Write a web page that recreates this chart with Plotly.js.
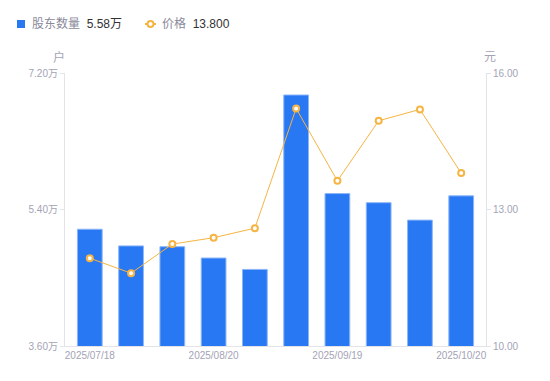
<!DOCTYPE html>
<html><head><meta charset="utf-8">
<script src="https://cdn.plot.ly/plotly-3.0.1.min.js"></script>
<style>body{margin:0;padding:0;background:#fff}#chart{width:550px;height:381px}</style>
</head><body><div id="chart"></div>
<script>
const dates = ['2025/07/18','2025/07/31','2025/08/10','2025/08/20','2025/08/31','2025/09/10','2025/09/19','2025/09/30','2025/10/10','2025/10/20'];
const holders = [5.14, 4.92, 4.91, 4.76, 4.61, 6.91, 5.61, 5.49, 5.26, 5.58]; // 万户
const price = [11.93, 11.60, 12.24, 12.38, 12.59, 15.22, 13.63, 14.95, 15.20, 13.80];
const shownTicks = ['2025/07/18','2025/08/20','2025/09/19','2025/10/20'];
const leftTicks = [3.6, 5.4, 7.2];
const leftLabels = ['3.60万','5.40万','7.20万'];
const rightTicks = [10, 13, 16];
const rightLabels = ['10.00','13.00','16.00'];
const legendNames = ['股东数量', '价格'];
const legendValues = ['5.58万', '13.800'];

const FONT = "'Liberation Sans', 'Noto Sans CJK SC', sans-serif";
const tickColor = '#a3a3b5';
const BLUE = '#2878f3', ORANGE = '#f6b443';

// plot area pixel helpers for the legend (paper coordinates)
const L = 65, R = 64, T = 73, B = 35, W = 550 - L - R, H = 381 - T - B;
const px = v => (v - L) / W;
const py = v => (381 - B - v) / H;

const traces = [
  {type:'bar', x:dates, y:holders, name:legendNames[0],
   marker:{color:BLUE, line:{color:'#8cb6f8', width:1}}, width:0.6, yaxis:'y'},
  {type:'scatter', mode:'lines+markers', x:dates, y:price, yaxis:'y2', name:legendNames[1],
   line:{color:ORANGE, width:1},
   marker:{symbol:'circle', size:6, color:'#fff', line:{color:ORANGE, width:2}}}
];

const ly = 24;
const layout = {
  width:550, height:381,
  margin:{l:L, r:R, t:T, b:B},
  paper_bgcolor:'#fff', plot_bgcolor:'#fff',
  font:{family:FONT, size:10, color:tickColor},
  showlegend:false,
  bargap:0.4,
  xaxis:{type:'category', tickmode:'array', tickvals:shownTicks, ticktext:shownTicks,
         showline:true, linecolor:'#e3e3e8', linewidth:1, ticks:'', showgrid:false, zeroline:false,
         tickfont:{size:10, color:tickColor, family:FONT}},
  yaxis:{range:[3.6,7.2], tickmode:'array', tickvals:leftTicks, ticktext:leftLabels,
         showline:true, linecolor:'#e3e3e8', ticks:'outside', ticklen:4, tickcolor:'#e3e3e8',
         showgrid:false, zeroline:false, tickfont:{size:10, color:tickColor, family:FONT}},
  yaxis2:{range:[10,16], overlaying:'y', side:'right', tickmode:'array', tickvals:rightTicks, ticktext:rightLabels,
          showline:true, linecolor:'#e3e3e8', ticks:'outside', ticklen:4, tickcolor:'#e3e3e8',
          showgrid:false, zeroline:false, tickfont:{size:10, color:tickColor, family:FONT}},
  shapes:[
    {type:'rect', xref:'paper', yref:'paper', x0:px(17), x1:px(25), y0:py(ly+4), y1:py(ly-4), fillcolor:BLUE, line:{width:0}},
    {type:'line', xref:'paper', yref:'paper', x0:px(145), x1:px(156), y0:py(ly), y1:py(ly), line:{color:ORANGE, width:2}},
    {type:'circle', xref:'paper', yref:'paper', x0:px(147.5), x1:px(153.5), y0:py(ly+3), y1:py(ly-3), fillcolor:'#fff', line:{color:ORANGE, width:2}}
  ],
  annotations:[
    {text:legendNames[0] + '&nbsp;&nbsp;<span style="color:#333">' + legendValues[0] + '</span>', xref:'paper', yref:'paper',
     x:px(30), y:py(ly), xanchor:'left', yanchor:'middle', showarrow:false, font:{size:12, color:'#8a8a9a'}},
    {text:legendNames[1] + '&nbsp;&nbsp;<span style="color:#333">' + legendValues[1] + '</span>', xref:'paper', yref:'paper',
     x:px(160), y:py(ly), xanchor:'left', yanchor:'middle', showarrow:false, font:{size:12, color:'#8a8a9a'}},
    {text:'户', xref:'paper', yref:'paper', x:px(59), y:py(57), xanchor:'center', yanchor:'middle', showarrow:false, font:{size:12, color:tickColor}},
    {text:'元', xref:'paper', yref:'paper', x:px(490), y:py(57), xanchor:'center', yanchor:'middle', showarrow:false, font:{size:12, color:tickColor}}
  ]
};
Plotly.newPlot('chart', traces, layout, {displayModeBar:false, staticPlot:true});
</script></body></html>
